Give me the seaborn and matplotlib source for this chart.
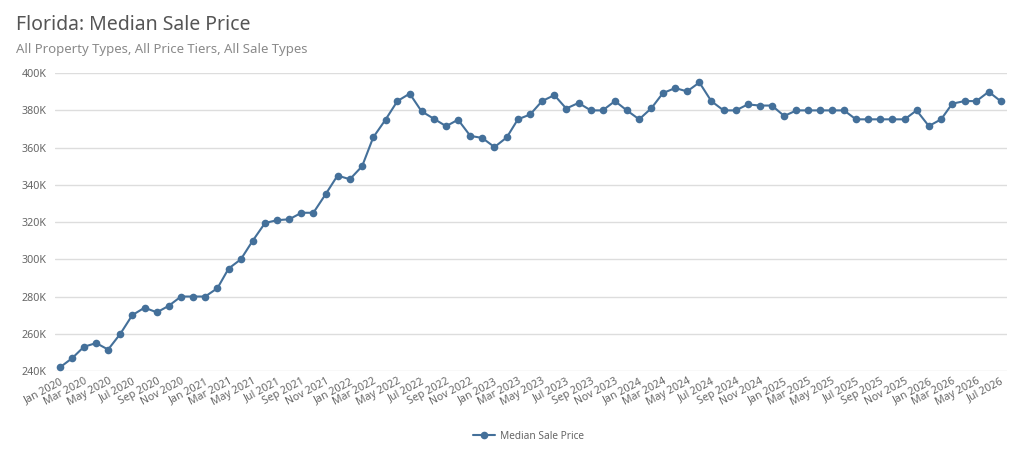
import seaborn as sns
import pandas as pd
import matplotlib.pyplot as plt
import matplotlib.dates as mdates
from matplotlib.ticker import FuncFormatter

# Monthly median sale price, Jan 2020 - Jul 2026 (values in thousands)
months = pd.date_range('2020-01-01', '2026-07-01', freq='MS')
price_k = [
    242, 247, 253, 255, 251.5, 260, 270, 274, 271.5, 275, 280, 280,          # 2020
    280, 284.5, 295, 300, 310, 319.5, 321, 321.5, 325, 325, 335, 345,        # 2021
    343, 350, 365.5, 375, 385, 389, 379.5, 375.5, 371.5, 375, 366.3, 365.2,  # 2022
    360.3, 365.5, 375.2, 377.8, 385, 388.2, 381, 384, 380, 380, 385, 380,    # 2023
    375.2, 381.2, 389.3, 392, 390.2, 395, 385, 380, 380, 383.2, 382.6, 382.6,  # 2024
    377, 380, 380, 380, 380, 380, 375.2, 375.2, 375.2, 375.2, 375.2, 380,    # 2025
    371.6, 375.2, 383.6, 385, 385, 390, 385,                                  # 2026
]

df = pd.DataFrame({'month': months, 'price': [v * 1000 for v in price_k]})

sns.set_style('white')
plt.rcParams['font.family'] = ['Noto Sans', 'DejaVu Sans']

line_color = '#44709a'
text_gray = '#666666'

fig = plt.figure(figsize=(10.24, 4.69), dpi=100)
ax = fig.add_axes([0.0537, 0.209, 0.930, 0.635])

sns.lineplot(data=df, x='month', y='price', ax=ax, color=line_color,
             marker='o', markersize=5.5, markeredgewidth=0, linewidth=1.5,
             label='Median Sale Price')

# axes ranges and ticks
ax.set_ylim(240000, 400000)
ax.set_yticks(range(240000, 400001, 20000))
ax.yaxis.set_major_formatter(FuncFormatter(lambda v, p: f'{int(v / 1000)}K'))
ax.set_xlim(pd.Timestamp('2019-12-19'), pd.Timestamp('2026-07-18'))
ax.xaxis.set_major_locator(mdates.MonthLocator(bymonth=[1, 3, 5, 7, 9, 11]))
ax.xaxis.set_major_formatter(mdates.DateFormatter('%b %Y'))

ax.grid(axis='y', color='#dddddd', linewidth=1)
ax.grid(axis='x', visible=False)
for s in ax.spines.values():
    s.set_visible(False)
ax.tick_params(axis='both', length=0, labelsize=7.7, labelcolor=text_gray)
ax.tick_params(axis='y', pad=6)
plt.setp(ax.get_xticklabels(), rotation=28, ha='right', rotation_mode='anchor')
ax.set_xlabel('')
ax.set_ylabel('')

# legend below the plot
leg = ax.legend(loc='upper center', bbox_to_anchor=(0.497, -0.17), frameon=False,
                fontsize=7.3, handlelength=2.2, handletextpad=0.5)
for t in leg.get_texts():
    t.set_color(text_gray)

# title and subtitle
fig.text(0.0156, 0.935, 'Florida: Median Sale Price', fontsize=14, color='#555555')
fig.text(0.0156, 0.888, 'All Property Types, All Price Tiers, All Sale Types',
         fontsize=9.5, color='#8a8a8a')

fig.savefig('out.png', dpi=100)
